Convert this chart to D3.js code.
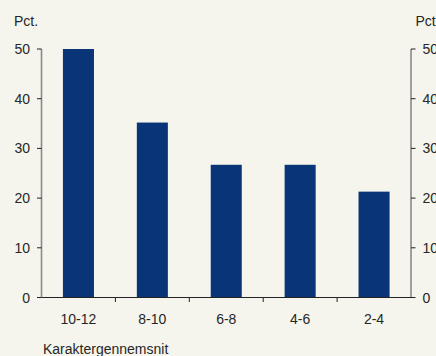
<!DOCTYPE html>
<html>
<head>
<meta charset="utf-8">
<script src="https://cdn.jsdelivr.net/npm/d3@7"></script>
<style>
  html, body { margin: 0; padding: 0; background: #f5f5ed; }
  svg { display: block; }
  text { font-family: "Liberation Sans", Arial, sans-serif; fill: #262626; }
</style>
</head>
<body>
<svg id="chart" width="436" height="356"></svg>
<script>
// Share of students by grade average (pct.)
const categories = ["10-12", "8-10", "6-8", "4-6", "2-4"];
const values = [50, 35.2, 26.7, 26.7, 21.3];
const yTicks = [0, 10, 20, 30, 40, 50];
const unitLabel = "Pct.";
const xTitle = "Karaktergennemsnit";

const W = 436, H = 356;
const margin = { left: 41.5, right: 25, top: 49, bottom: 58.5 };
const svg = d3.select("#chart");

const x = d3.scaleBand()
  .domain(categories)
  .range([margin.left, W - margin.right])
  .paddingInner(0.58)
  .paddingOuter(0.29);

const y = d3.scaleLinear()
  .domain([0, 50])
  .range([H - margin.bottom, margin.top]);

const bandStep = x.step();
const x0 = margin.left, x1 = W - margin.right;
const yBase = y(0);

// bars
svg.append("g")
  .selectAll("rect")
  .data(values)
  .join("rect")
  .attr("x", (d, i) => x(categories[i]))
  .attr("width", x.bandwidth())
  .attr("y", d => y(d))
  .attr("height", d => yBase - y(d))
  .attr("fill", "#0a3478");

// left and right vertical axes
function vAxis(xPos, side) {
  const g = svg.append("g");
  g.append("line")
    .attr("x1", xPos).attr("x2", xPos)
    .attr("y1", y(50)).attr("y2", yBase)
    .attr("stroke", "#8a8a86").attr("stroke-width", 1.6);
  const dir = side === "left" ? -1 : 1;
  g.selectAll("line.tick")
    .data(yTicks)
    .join("line")
    .attr("class", "tick")
    .attr("x1", xPos).attr("x2", xPos + dir * 4.5)
    .attr("y1", d => y(d)).attr("y2", d => y(d))
    .attr("stroke", "#222").attr("stroke-width", 1);
  g.selectAll("text")
    .data(yTicks)
    .join("text")
    .attr("x", xPos + dir * 11.5)
    .attr("y", d => y(d))
    .attr("dy", "0.36em")
    .attr("text-anchor", side === "left" ? "end" : "start")
    .attr("font-size", 14)
    .text(d => d);
}
vAxis(x0, "left");
vAxis(x1, "right");

// bottom axis with ticks between categories
const bx = svg.append("g");
bx.append("line")
  .attr("x1", x0).attr("x2", x1)
  .attr("y1", yBase).attr("y2", yBase)
  .attr("stroke", "#222").attr("stroke-width", 1.2);
const dividers = d3.range(1, categories.length).map(i => x0 + i * (x1 - x0) / categories.length);
bx.selectAll("line.tick")
  .data(dividers)
  .join("line")
  .attr("class", "tick")
  .attr("x1", d => d).attr("x2", d => d)
  .attr("y1", yBase).attr("y2", yBase + 4.5)
  .attr("stroke", "#222");
bx.selectAll("text")
  .data(categories)
  .join("text")
  .attr("x", d => x(d) + x.bandwidth() / 2)
  .attr("y", yBase + 26.5)
  .attr("text-anchor", "middle")
  .attr("font-size", 14)
  .text(d => d);

// unit labels and axis title
svg.append("text").attr("x", 14).attr("y", 25.5).attr("font-size", 14).text(unitLabel);
svg.append("text").attr("x", 415.5).attr("y", 25.5).attr("font-size", 14).text(unitLabel);
svg.append("text").attr("x", 43).attr("y", 353.5).attr("font-size", 14).text(xTitle);
</script>
</body>
</html>
